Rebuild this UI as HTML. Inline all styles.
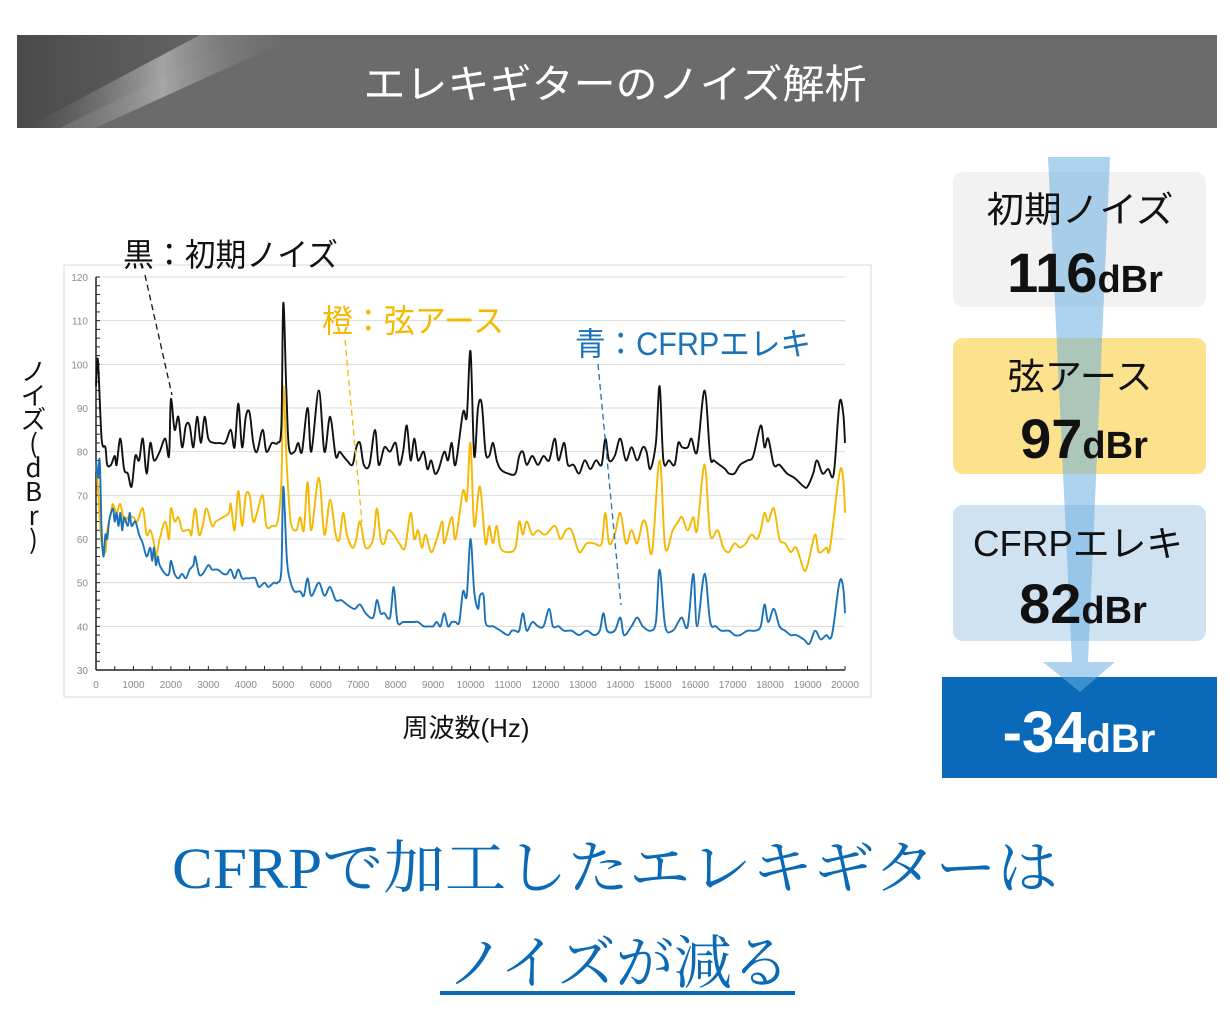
<!DOCTYPE html>
<html><head><meta charset="utf-8"><style>
body{margin:0;width:1230px;height:1023px;background:#fff;overflow:hidden;font-family:"Liberation Sans","Noto Sans CJK JP",sans-serif;position:relative}
#ylab{position:absolute;left:18px;top:358px;writing-mode:vertical-rl;text-orientation:upright;font-family:"Noto Sans CJK JP",sans-serif;font-size:26px;line-height:30px;letter-spacing:-2px;color:#111}
</style></head><body>
<svg id="svg" width="1230" height="1023" viewBox="0 0 1230 1023" xmlns="http://www.w3.org/2000/svg">
<defs>
<linearGradient id="lg" x1="0" y1="0" x2="1" y2="0">
<stop offset="0" stop-color="#6b6b6b" stop-opacity="0"/><stop offset="0.5" stop-color="#b0b0b0"/><stop offset="1" stop-color="#6b6b6b" stop-opacity="0"/>
</linearGradient>
<linearGradient id="dg" x1="0" y1="0" x2="1" y2="0">
<stop offset="0" stop-color="#4a4a4a"/><stop offset="1" stop-color="#6b6b6b"/>
</linearGradient>
</defs>
<g>
<rect x="17" y="35" width="1200" height="93" fill="#6b6b6b"/>
<polygon points="17,35 250,35 60,128 17,128" fill="url(#dg)"/>
<polygon points="200,35 300,35 95,128 25,128" fill="url(#lg)" opacity="0.85"/>
<text x="615" y="98" text-anchor="middle" font-size="40" fill="#fff" textLength="503" lengthAdjust="spacingAndGlyphs">エレキギターのノイズ解析</text>
</g>
<rect x="64" y="265" width="807" height="432" fill="#fff" stroke="#d9d9d9"/>
<g id="grid"></g><g id="axes"></g><g id="series"></g>
<g>
<text x="123" y="266" font-size="32" fill="#111" textLength="215" lengthAdjust="spacingAndGlyphs">黒：初期ノイズ</text>
<line x1="145" y1="275" x2="172" y2="395" stroke="#111" stroke-width="1.3" stroke-dasharray="6,4"/>
<text x="322" y="332" font-size="32" fill="#f5b800" textLength="182" lengthAdjust="spacingAndGlyphs">橙：弦アース</text>
<line x1="345" y1="340" x2="362" y2="522" stroke="#f5b800" stroke-width="1.3" stroke-dasharray="6,4"/>
<text x="575" y="355" font-size="32" fill="#1a72b8" textLength="236" lengthAdjust="spacingAndGlyphs">青：CFRPエレキ</text>
<line x1="598" y1="364" x2="621" y2="605" stroke="#1a72b8" stroke-width="1.3" stroke-dasharray="6,4"/>
</g>
<text x="466" y="737" text-anchor="middle" font-size="26" fill="#111">周波数(Hz)</text>
<g>
<rect x="953" y="172" width="253" height="135" rx="10" fill="#f2f2f2"/>
<rect x="953" y="338" width="253" height="136" rx="10" fill="#fce28c"/>
<rect x="953" y="505" width="253" height="136" rx="10" fill="#cfe2f1"/>
<rect x="942" y="677" width="275" height="101" fill="#0b69b9"/>
<path d="M1048 157 L1110 157 L1088 662 L1115 662 L1080 692 L1043 662 L1072 662 Z" fill="#6aaee0" opacity="0.55"/>
<text x="1080" y="222" text-anchor="middle" font-size="36" fill="#111" textLength="187" lengthAdjust="spacingAndGlyphs">初期ノイズ</text>
<text x="1085" y="292" text-anchor="middle" font-weight="bold" fill="#111"><tspan font-size="56">116</tspan><tspan font-size="38">dBr</tspan></text>
<text x="1080" y="389" text-anchor="middle" font-size="36" fill="#111" textLength="145" lengthAdjust="spacingAndGlyphs">弦アース</text>
<text x="1084" y="458" text-anchor="middle" font-weight="bold" fill="#111"><tspan font-size="56">97</tspan><tspan font-size="38">dBr</tspan></text>
<text x="1078" y="556" text-anchor="middle" font-size="36" fill="#111" textLength="210" lengthAdjust="spacingAndGlyphs">CFRPエレキ</text>
<text x="1083" y="623" text-anchor="middle" font-weight="bold" fill="#111"><tspan font-size="56">82</tspan><tspan font-size="38">dBr</tspan></text>
<text x="1079" y="752" text-anchor="middle" font-weight="bold" fill="#fff"><tspan font-size="58">-34</tspan><tspan font-size="40">dBr</tspan></text>
</g>
<g fill="#0b6ab6" font-family="'Liberation Serif','Noto Serif CJK SC',serif">
<text x="172" y="888" font-size="58" textLength="886" lengthAdjust="spacingAndGlyphs">CFRPで加工したエレキギターは</text>
<text x="447" y="983" font-size="58" textLength="343" lengthAdjust="spacingAndGlyphs">ノイズが減る</text>
<rect x="440" y="991" width="355" height="4"/>
</g>
</svg>
<div id="ylab">ノイズ(dBr)</div>
<script>
const xTicks=[0,1000,2000,3000,4000,5000,6000,7000,8000,9000,10000,11000,12000,13000,14000,15000,16000,17000,18000,19000,20000];
const yTicks=[30,40,50,60,70,80,90,100,110,120];
const blackFreq=[0,50,150,250,300,400,500,550,650,750,850,950,1050,1150,1250,1350,1450,1550,1700,1850,1950,2000,2100,2200,2300,2400,2500,2600,2700,2800,2900,3000,3150,3300,3450,3600,3700,3800,3900,4000,4100,4200,4300,4450,4550,4700,4850,4950,5000,5080,5150,5300,5400,5500,5650,5750,5950,6100,6250,6400,6500,6600,6700,6850,6950,7050,7150,7300,7450,7550,7700,7850,8000,8100,8200,8300,8400,8500,8600,8750,8850,8950,9050,9150,9300,9400,9500,9600,9800,9900,10000,10100,10200,10300,10400,10500,10600,10700,10800,11000,11200,11300,11400,11500,11650,11800,11950,12100,12250,12350,12500,12600,12750,12900,13050,13200,13350,13500,13600,13700,13850,14000,14150,14300,14450,14600,14700,14800,14950,15050,15150,15300,15450,15550,15650,15800,15900,16050,16250,16400,16500,16650,16800,16900,17050,17200,17400,17550,17750,17850,17950,18100,18250,18450,18650,18900,19000,19150,19250,19400,19550,19700,19850,19950,20000];
const blackVals=[95,101,83,81,77,77,79,77,83,76,75,72,79,78,83,75,82,78,80,83,79,92,85,88,81,86,86,81,88,82,88,83,82,82,82,85,81,91,81,88,89,82,80,85,80,82,82,86,114,95,81,80,82,80,90,80,94,80,88,79,80,79,78,77,81,82,77,77,85,77,81,80,82,77,80,86,78,83,78,80,76,78,75,76,80,78,82,77,89,88,103,79,90,91,80,79,82,78,76,75,75,79,80,77,79,77,79,78,83,78,82,77,77,75,78,76,78,77,83,78,79,83,78,81,78,81,80,76,82,95,78,78,77,82,81,81,83,80,94,79,78,77,76,75,75,77,78,79,86,81,83,77,77,75,74,72,72,75,78,75,76,75,91,89,82];
const orangeFreq=[0,50,150,250,300,400,450,550,650,750,850,1000,1100,1250,1350,1450,1550,1600,1700,1850,1950,2000,2100,2200,2300,2400,2500,2550,2650,2750,2850,2950,3100,3200,3400,3550,3600,3700,3800,3900,4000,4100,4200,4300,4450,4550,4700,4850,4950,5000,5100,5200,5350,5450,5550,5650,5750,5950,6100,6250,6400,6500,6600,6700,6850,6950,7050,7200,7400,7500,7600,7700,7800,7950,8100,8250,8400,8500,8600,8700,8800,8950,9100,9250,9300,9500,9600,9800,9900,10000,10100,10250,10400,10500,10600,10700,10800,11000,11200,11300,11400,11500,11650,11800,12000,12250,12400,12550,12700,12900,13100,13300,13500,13600,13700,13850,14000,14150,14300,14450,14600,14700,14850,15050,15200,15400,15550,15650,15800,15950,16050,16250,16400,16600,16750,16900,17050,17200,17350,17500,17650,17750,17850,17950,18100,18250,18400,18550,18700,18900,19000,19200,19300,19500,19600,19850,19950,20000];
const orangeVals=[78,72,59,57,62,66,68,66,68,64,65,65,64,67,61,62,59,56,60,64,60,67,64,65,62,62,62,61,67,61,63,67,63,64,65,66,68,62,71,63,70,70,64,66,70,63,63,64,73,95,76,64,62,65,62,73,62,74,61,69,61,60,66,61,58,60,64,58,60,67,60,59,62,61,59,58,66,60,62,58,61,57,60,64,59,65,60,71,69,82,63,72,59,63,59,63,58,57,58,64,61,64,61,62,61,63,60,62,62,57,59,59,59,66,59,61,66,59,62,59,64,63,57,78,58,62,64,65,62,65,62,77,61,62,58,57,59,58,59,61,60,62,66,64,67,60,59,57,58,53,54,61,57,58,58,75,74,66];
const blueFreq=[0,50,100,150,200,250,300,350,450,500,550,600,650,700,750,850,900,950,1050,1150,1250,1350,1450,1500,1550,1600,1650,1700,1850,1950,2000,2100,2200,2300,2400,2500,2600,2650,2750,2850,3000,3100,3250,3400,3500,3600,3700,3800,3900,4000,4100,4250,4350,4500,4600,4750,4850,4950,5000,5100,5200,5300,5450,5550,5650,5750,5950,6100,6250,6400,6550,6700,6900,7050,7200,7400,7500,7600,7700,7850,7950,8050,8200,8400,8500,8600,8750,8900,9000,9100,9200,9300,9400,9500,9600,9700,9800,9900,10000,10100,10200,10250,10350,10400,10500,10600,10800,11000,11100,11200,11300,11400,11500,11650,11800,11950,12100,12200,12350,12500,12700,12900,13100,13300,13450,13550,13650,13850,14000,14100,14300,14450,14600,14800,14950,15050,15200,15400,15550,15650,15800,15950,16050,16250,16400,16550,16700,16900,17050,17200,17400,17600,17750,17850,17950,18100,18250,18400,18550,18700,18900,19050,19200,19350,19500,19650,19850,19950,20000];
const blueVals=[78,74,78,62,56,61,60,64,67,64,66,63,66,62,65,63,66,63,64,61,59,56,58,55,58,54,56,54,52,52,55,52,51,52,51,53,54,56,52,52,54,53,53,52,52,53,51,53,51,51,51,51,49,50,49,50,50,53,72,55,50,48,48,47,51,47,50,47,49,46,46,45,44,45,43,42,46,43,43,42,49,41,41,41,41,41,40,40,40,41,40,43,40,41,41,41,48,47,60,48,44,47,47,41,40,40,39,38,39,39,39,43,39,41,40,40,44,40,40,39,39,38,39,38,39,43,39,39,42,38,40,42,40,39,41,53,40,39,41,42,40,52,40,52,41,40,39,39,38,38,39,39,40,45,41,44,40,39,38,38,37,36,39,37,38,38,50,49,43];

const X0=96,X1=845,Y0=670,Y1=277;
function xScale(f){return X0+(f-0)/(20000-0)*(X1-X0);}
function yScale(v){return Y0-(v-30)/(120-30)*(Y0-Y1);}
const NS='http://www.w3.org/2000/svg';
function mk(tag,attrs,parent){const e=document.createElementNS(NS,tag);for(const k in attrs)e.setAttribute(k,attrs[k]);parent.appendChild(e);return e;}
const grid=document.getElementById('grid'),axes=document.getElementById('axes'),series=document.getElementById('series');
yTicks.forEach(v=>{
  if(v>30){const g=mk('line',{x1:X0,x2:X1,y1:yScale(v),y2:yScale(v),stroke:'#dcdcdc','stroke-width':1},grid);
  
  }
  const t=mk('text',{x:88,y:yScale(v)+4,'text-anchor':'end','font-size':10,fill:'#8a8a8a'},axes);t.textContent=v;
  
  
});
for(let v=30;v<=120;v+=2){mk('line',{x1:X0,x2:X0+4,y1:yScale(v),y2:yScale(v),stroke:'#222','stroke-width':1},axes);}
xTicks.forEach(f=>{
  const t=mk('text',{x:xScale(f),y:688,'text-anchor':'middle','font-size':10,fill:'#8a8a8a'},axes);t.textContent=f;
  
  
});
for(let f=0;f<=20000;f+=500){mk('line',{x1:xScale(f),x2:xScale(f),y1:Y0,y2:Y0-4,stroke:'#222','stroke-width':1},axes);}
const ya=mk('line',{x1:X0,x2:X0,y1:Y1,y2:Y0,stroke:'#222','stroke-width':1.5},axes);


const xa=mk('line',{x1:X0,x2:X1,y1:Y0,y2:Y0,stroke:'#222','stroke-width':1.5},axes);


function drawSeries(fr,vals,color,name){
  const P=fr.map((f,i)=>[xScale(f),yScale(vals[i])]);
  let d='M'+P[0][0].toFixed(1)+' '+P[0][1].toFixed(1);
  for(let i=0;i<P.length-1;i++){
    const p0=P[Math.max(0,i-1)],p1=P[i],p2=P[i+1],p3=P[Math.min(P.length-1,i+2)];
    const c1=[p1[0]+(p2[0]-p0[0])/6,p1[1]+(p2[1]-p0[1])/6];
    const c2=[p2[0]-(p3[0]-p1[0])/6,p2[1]-(p3[1]-p1[1])/6];
    d+=' C'+c1[0].toFixed(1)+' '+c1[1].toFixed(1)+' '+c2[0].toFixed(1)+' '+c2[1].toFixed(1)+' '+p2[0].toFixed(1)+' '+p2[1].toFixed(1);
  }
  const p=mk('path',{d:d,fill:'none',stroke:color,'stroke-width':1.9,'stroke-linejoin':'round'},series);
  
  
}
drawSeries(orangeFreq,orangeVals,'#f5b800','series-string-ground');
drawSeries(blueFreq,blueVals,'#1a72b8','series-cfrp');
drawSeries(blackFreq,blackVals,'#111','series-initial-noise');
</script>
</body></html>
